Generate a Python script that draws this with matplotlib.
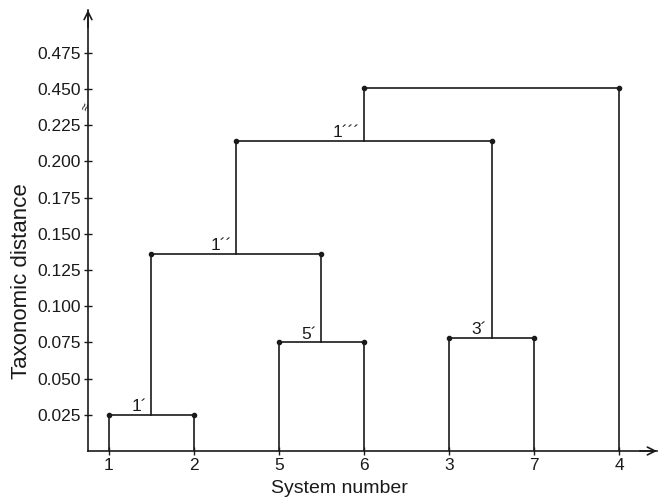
import numpy as np
import matplotlib
matplotlib.use("Agg")
import matplotlib.pyplot as plt

plt.rcParams['font.family'] = ['Liberation Sans', 'DejaVu Sans']

leaf_labels = ['1', '2', '5', '6', '3', '7', '4']
# clusters are numbered after the leaves: 7, 8, 9, ...
merge_pairs = [(0, 1), (2, 3), (4, 5), (7, 8), (10, 9), (11, 6)]
merge_heights = [0.025, 0.075, 0.078, 0.136, 0.214, 0.451]
merge_labels = ['1\u00b4', '5\u00b4', '3\u00b4', '1\u00b4\u00b4', '1\u00b4\u00b4\u00b4', '']

ytick_values = [0.025, 0.050, 0.075, 0.100, 0.125, 0.150, 0.175, 0.200, 0.225,
                0.450, 0.475]


def forward(v):
    v = np.asarray(v, dtype=float)
    return np.where(v <= 0.225, v,
                    np.where(v >= 0.45, v - 0.2, 0.225 + (v - 0.225) / 9))


def inverse(u):
    u = np.asarray(u, dtype=float)
    return np.where(u <= 0.225, u,
                    np.where(u >= 0.25, u + 0.2, 0.225 + (u - 0.225) * 9))


fig = plt.figure(figsize=(6.58, 5.0), dpi=100)
ax = fig.add_axes([88 / 658, 49 / 500, 569 / 658, 441 / 500])
ax.set_yscale('function', functions=(forward, inverse))

col = '#1a1a1a'
xs = list(range(len(leaf_labels)))
hs = [0.0] * len(leaf_labels)

for (a, b), h, lab in zip(merge_pairs, merge_heights, merge_labels):
    xa, xb = xs[a], xs[b]
    ax.plot([xa, xa], [hs[a], h], color=col, lw=1.2)
    ax.plot([xb, xb], [hs[b], h], color=col, lw=1.2)
    ax.plot([xa, xb], [h, h], color=col, lw=1.2, marker='o', ms=3,
            markevery=[0, 1])
    xm = (xa + xb) / 2
    if lab:
        ax.annotate(lab, (xm, h), xytext=(-3, 0.5), textcoords='offset points',
                    ha='right', va='bottom', fontsize=12.5, color=col)
    xs.append(xm)
    hs.append(h)

ax.set_xlim(-0.247, 6.447)
ax.set_ylim(0, 0.5046)

ax.set_xticks(range(len(leaf_labels)))
ax.set_xticklabels(leaf_labels)
ax.set_yticks(ytick_values)
ax.set_yticklabels(['%.3f' % v for v in ytick_values])
ax.minorticks_off()
ax.tick_params(axis='both', direction='inout', length=6, width=1,
               labelsize=12.5, colors=col, pad=2)

for side in ['top', 'right']:
    ax.spines[side].set_visible(False)
for side in ['left', 'bottom']:
    ax.spines[side].set_color(col)
    ax.spines[side].set_linewidth(1.2)

# arrow heads on the axes
ax.annotate('', xy=(1.0, 0), xytext=(0.97, 0), xycoords='axes fraction',
            arrowprops=dict(arrowstyle='->', color=col, lw=1.2,
                            mutation_scale=14, shrinkA=0, shrinkB=0))
ax.annotate('', xy=(0, 1.0), xytext=(0, 0.96), xycoords='axes fraction',
            arrowprops=dict(arrowstyle='->', color=col, lw=1.2,
                            mutation_scale=14, shrinkA=0, shrinkB=0))

# break mark between 0.225 and 0.450
ax.text(-0.004, 0.34, '\u2248', transform=ax.get_yaxis_transform(),
        rotation=70, ha='center', va='center', fontsize=10, color=col)

ax.set_xlabel('System number', fontsize=14, color=col)
ax.set_ylabel('Taxonomic distance', fontsize=16, color=col)
ax.xaxis.set_label_coords(0.442, -0.066)
ax.yaxis.set_label_coords(-0.098, 0.385)

fig.savefig('out.png', dpi=100)
